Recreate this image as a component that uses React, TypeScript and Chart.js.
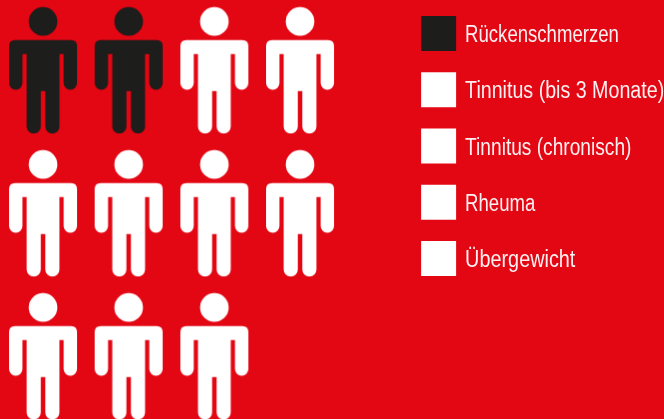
import React, { useEffect, useRef } from "react";
import { Chart, registerables } from "chart.js";

Chart.register(...registerables);

const categories = [
  "Rückenschmerzen",
  "Tinnitus (bis 3 Monate)",
  "Tinnitus (chronisch)",
  "Rheuma",
  "Übergewicht",
];
// number of figures per category (only the dark/white split is visible in the picture)
const counts = [2, 3, 2, 2, 2];
const seriesColors = ["#1D1D1B", "#FFFFFF", "#FFFFFF", "#FFFFFF", "#FFFFFF"];
// grid cell of each figure, in reading order
const columns = [0, 1, 2, 3, 0, 1, 2, 3, 0, 1, 2];
const rows = [0, 0, 0, 0, 1, 1, 1, 1, 2, 2, 2];

const BG = "#E30613";
// The reference type is a condensed face; none is installed, so each label is squeezed horizontally.
const textSqueeze = [0.79, 0.836, 0.8145, 0.79, 0.844];

function personIcon(color: string): HTMLCanvasElement {
  const c = document.createElement("canvas");
  c.width = 70;
  c.height = 128;
  const ctx = c.getContext("2d")!;
  ctx.fillStyle = color;
  ctx.translate(1, 0.75);
  // head
  ctx.beginPath();
  ctx.arc(34, 14.4, 14.3, 0, Math.PI * 2);
  ctx.fill();
  // body
  const L = 0, R = 68, top = 33, armW = 13.4, armBottom = 82.7, gap = 4.2, shoulderY = 47;
  const crotch = 84, foot = 126.6, legGap = 4.5;
  const bodyL = L + armW + gap;
  const bodyR = R - armW - gap;
  const mid = 34;
  const ar = armW / 2;
  const lw = mid - legGap / 2 - bodyL;
  const lr = lw / 2;
  ctx.beginPath();
  ctx.moveTo(L + 6, top);
  ctx.lineTo(R - 6, top);
  ctx.quadraticCurveTo(R, top, R, top + 6);
  ctx.lineTo(R, armBottom - ar);
  ctx.arc(R - ar, armBottom - ar, ar, 0, Math.PI);
  ctx.lineTo(R - armW, shoulderY);
  ctx.lineTo(bodyR, shoulderY);
  ctx.lineTo(bodyR, foot - lr);
  ctx.arc(bodyR - lr, foot - lr, lr, 0, Math.PI);
  ctx.lineTo(mid + legGap / 2, crotch);
  ctx.lineTo(mid - legGap / 2, crotch);
  ctx.lineTo(mid - legGap / 2, foot - lr);
  ctx.arc(bodyL + lr, foot - lr, lr, 0, Math.PI);
  ctx.lineTo(bodyL, shoulderY);
  ctx.lineTo(L + armW, shoulderY);
  ctx.lineTo(L + armW, armBottom - ar);
  ctx.arc(L + ar, armBottom - ar, ar, 0, Math.PI);
  ctx.lineTo(L, top + 6);
  ctx.quadraticCurveTo(L, top, L + 6, top);
  ctx.closePath();
  ctx.fill();
  return c;
}

export default function App() {
  const ref = useRef<HTMLCanvasElement>(null);

  useEffect(() => {
    let start = 0;
    const datasets = categories.map((label, i) => {
      const data = [];
      for (let k = start; k < start + counts[i]; k++) {
        data.push({ x: columns[k], y: rows[k] });
      }
      start += counts[i];
      return {
        label,
        data,
        backgroundColor: seriesColors[i],
        borderColor: seriesColors[i],
        borderWidth: 0,
        pointStyle: personIcon(seriesColors[i]),
        clip: false as const,
      };
    });

    const ctx = ref.current!.getContext("2d")!;
    const fillText = ctx.fillText.bind(ctx);
    ctx.fillText = (t: string, x: number, y: number) => {
      ctx.save();
      ctx.translate(x - 2.75, y + 2);
      ctx.scale(textSqueeze[categories.indexOf(t)] ?? 1, 1);
      fillText(t, 0, 0);
      ctx.restore();
    };

    const chart = new Chart(ref.current!, {
      type: "scatter",
      data: { datasets },
      options: {
        responsive: false,
        animation: false,
        layout: { autoPadding: false, padding: { left: 0, top: -5.2, right: -52, bottom: 0 } },
        scales: {
          x: { type: "linear", display: false, min: -0.502, max: 4.165 },
          y: { type: "linear", display: false, reverse: true, min: -0.4913, max: 2.4388 },
        },
        plugins: {
          tooltip: { enabled: false },
          legend: {
            display: true,
            position: "right",
            align: "start",
            labels: {
              boxWidth: 35,
              boxHeight: 35,
              padding: 21.25,
              color: "rgba(255,255,255,0.94)",
              font: { family: "'Liberation Sans'", size: 23.5 },
            },
          },
        },
      },
    });
    return () => {
      chart.destroy();
    };
  }, []);

  return (
    <div style={{ position: "fixed", left: 0, top: 0, width: 664, height: 419, background: BG, overflow: "hidden" }}>
      <canvas ref={ref} width={664} height={419} style={{ display: "block" }} />
    </div>
  );
}
